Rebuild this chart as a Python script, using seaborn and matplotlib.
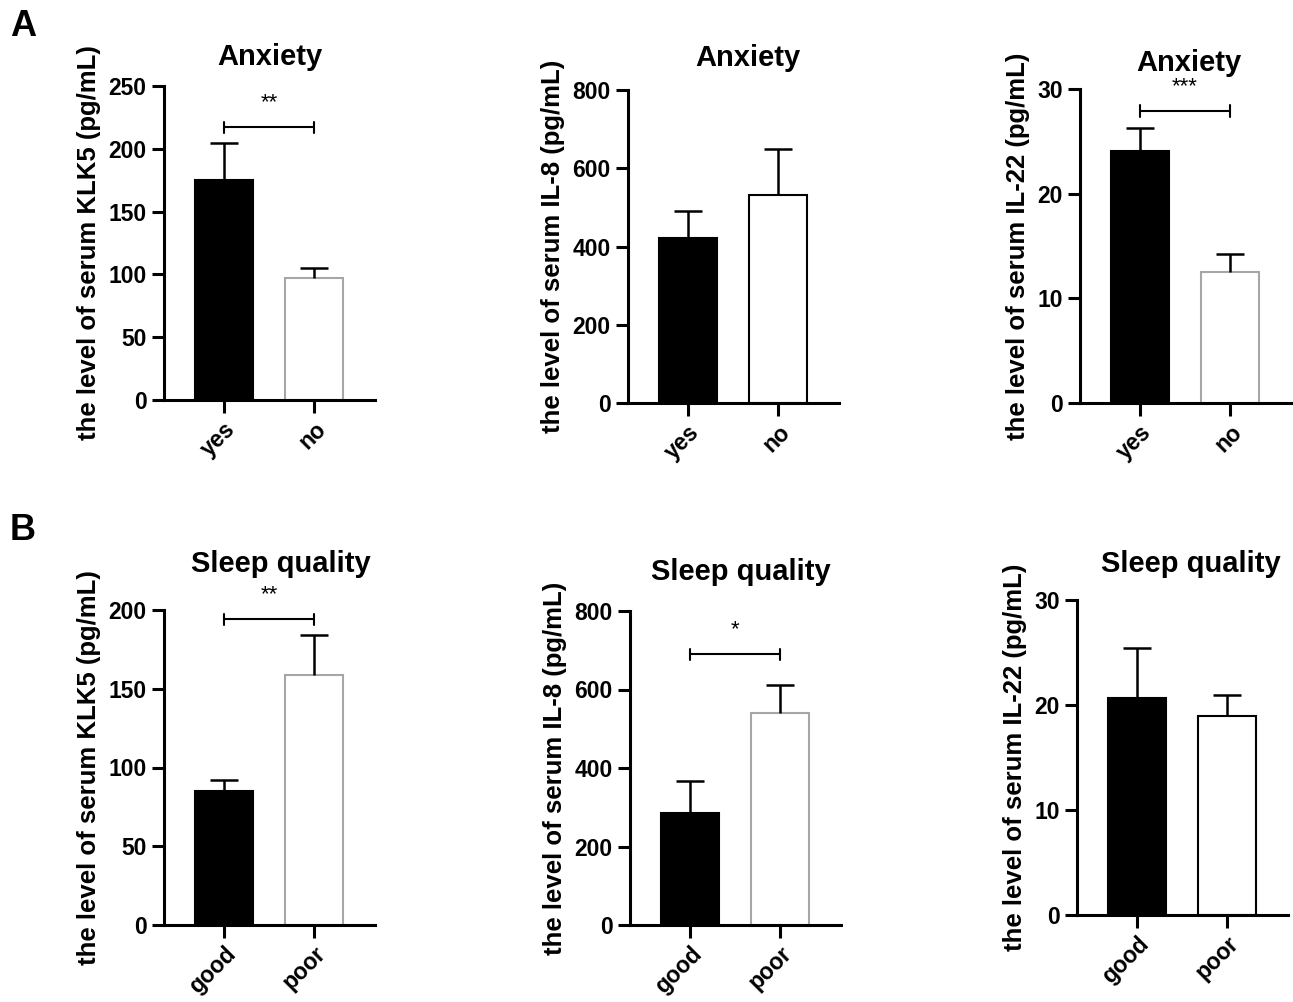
import numpy as np
import pandas as pd
import matplotlib
matplotlib.use("Agg")
import matplotlib.pyplot as plt
import seaborn as sns

# ---------------------------------------------------------------------------
# data (mean, top of error bar)
anx_groups = ["yes", "no"]
sleep_groups = ["good", "poor"]

klk5_anx_mean = [175, 97]
klk5_anx_top = [205, 105]
il8_anx_mean = [422, 532]
il8_anx_top = [492, 650]
il22_anx_mean = [24.1, 12.5]
il22_anx_top = [26.3, 14.2]

klk5_sleep_mean = [85, 159]
klk5_sleep_top = [92, 184]
il8_sleep_mean = [285, 540]
il8_sleep_top = [367, 612]
il22_sleep_mean = [20.7, 19.0]
il22_sleep_top = [25.4, 21.0]

klk5_ticks = [0, 50, 100, 150, 200, 250]
klk5_ticks_b = [0, 50, 100, 150, 200]
il8_ticks = [0, 200, 400, 600, 800]
il22_ticks = [0, 10, 20, 30]

# significance: (label, bracket height)
sig_klk5_anx = ("**", 217)
sig_il22_anx = ("***", 27.9)
sig_klk5_sleep = ("**", 194)
sig_il8_sleep = ("*", 690)

# ---------------------------------------------------------------------------
sns.set_style("ticks")
plt.rcParams['font.family'] = ['Liberation Sans', 'DejaVu Sans']
plt.rcParams['font.weight'] = 'bold'
for k in ['text.color', 'axes.labelcolor', 'xtick.color', 'ytick.color',
          'axes.edgecolor']:
    plt.rcParams[k] = 'black'

W, H = 1293, 1002
fig = plt.figure(figsize=(W / 100, H / 100), dpi=100)


def px_axes(left, top, bottom, width=211):
    return fig.add_axes([left / W, 1 - bottom / H, width / W, (bottom - top) / H])


def panel(ax, groups, means, tops, ticks, ylabel, title, title_pad, title_x,
          white_edge, sig=None):
    df = pd.DataFrame({"group": groups, "value": means})
    sns.barplot(data=df, x="group", y="value", hue="group",
                palette=["black", "white"], width=0.655, legend=False,
                ax=ax, zorder=2)
    for patch, ec in zip(ax.patches, ["black", white_edge]):
        patch.set_edgecolor(ec)
        patch.set_linewidth(1.5)
    err = np.array(tops) - np.array(means)
    _, caps, _ = ax.errorbar([0, 1], means, yerr=[np.zeros(2), err],
                             fmt="none", ecolor="black", elinewidth=1.8,
                             capsize=10, capthick=1.8, zorder=3)
    caps[0].remove()  # only the upper half of the error bar is shown
    ax.set_xlim(-0.667, 1.678)
    ax.set_ylim(0, ticks[-1])
    ax.set_yticks(ticks)
    ax.set_xticks([0, 1])
    ax.set_xticklabels(groups, rotation=45, ha="right", va="top",
                       rotation_mode="anchor")
    ax.tick_params(axis="both", labelsize=16.5, width=2.2, length=9,
                   direction="out")
    for lab in ax.get_xticklabels() + ax.get_yticklabels():
        lab.set_fontweight("bold")
    sns.despine(ax=ax)
    for s in ["left", "bottom"]:
        ax.spines[s].set_linewidth(2.2)
    ax.set_xlabel("")
    ax.set_ylabel(ylabel, fontsize=18.5, fontweight="bold", labelpad=5)
    ax.set_title(title, fontsize=21, fontweight="bold", pad=title_pad,
                 x=title_x)
    if sig is not None:
        txt, yb = sig
        tick = ticks[-1] * 0.018
        ax.plot([0, 1], [yb, yb], color="black", lw=1.5, clip_on=False,
                zorder=4)
        for xe in (0, 1):
            ax.plot([xe, xe], [yb - tick, yb + tick], color="black", lw=1.5,
                    clip_on=False, zorder=4)
        ax.text(0.5, yb + ticks[-1] * 0.045, txt, ha="center", va="bottom",
                fontsize=16, fontweight="normal")


axA1 = px_axes(164, 86, 400)
axA2 = px_axes(628, 90, 403)
axA3 = px_axes(1080, 89, 403)
axB1 = px_axes(164, 610, 925)
axB2 = px_axes(630, 611, 925)
axB3 = px_axes(1077, 600, 915)

panel(axA1, anx_groups, klk5_anx_mean, klk5_anx_top, klk5_ticks,
      "the level of serum KLK5 (pg/mL)", "Anxiety", 15, 0.5, "#a6a6a6",
      sig_klk5_anx)
panel(axA2, anx_groups, il8_anx_mean, il8_anx_top, il8_ticks,
      "the level of serum IL-8 (pg/mL)", "Anxiety", 17, 0.57, "black")
panel(axA3, anx_groups, il22_anx_mean, il22_anx_top, il22_ticks,
      "the level of serum IL-22 (pg/mL)", "Anxiety", 13, 0.515, "#a6a6a6",
      sig_il22_anx)
panel(axB1, sleep_groups, klk5_sleep_mean, klk5_sleep_top, klk5_ticks_b,
      "the level of serum KLK5 (pg/mL)", "Sleep quality", 27, 0.555, "#a6a6a6",
      sig_klk5_sleep)
panel(axB2, sleep_groups, il8_sleep_mean, il8_sleep_top, il8_ticks,
      "the level of serum IL-8 (pg/mL)", "Sleep quality", 22, 0.525, "#a6a6a6",
      sig_il8_sleep)
panel(axB3, sleep_groups, il22_sleep_mean, il22_sleep_top, il22_ticks,
      "the level of serum IL-22 (pg/mL)", "Sleep quality", 20, 0.54, "black")

fig.text(10 / W, 1 - 26 / H, "A", fontsize=26, fontweight="bold",
         ha="left", va="center")
fig.text(10 / W, 1 - 530 / H, "B", fontsize=26, fontweight="bold",
         ha="left", va="center")

fig.savefig("out.png", dpi=100)
